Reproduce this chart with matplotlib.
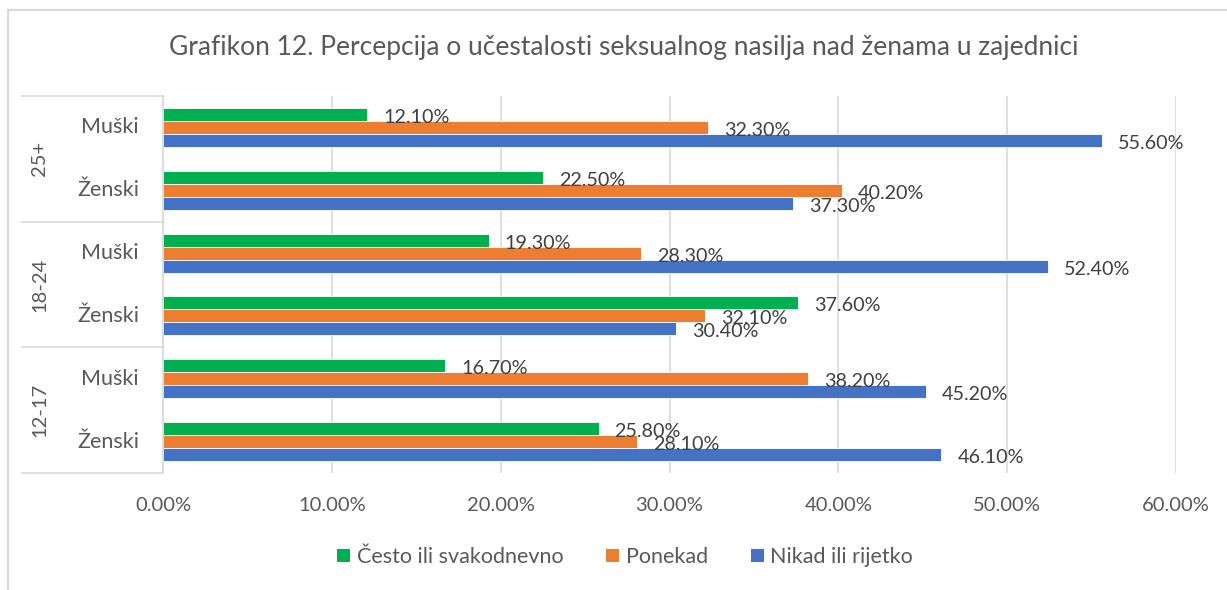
import matplotlib
matplotlib.use("Agg")
import matplotlib.pyplot as plt
from matplotlib.patches import Rectangle
from matplotlib.lines import Line2D
import numpy as np

plt.rcParams['font.family'] = ['Lato', 'DejaVu Sans']

title = "Grafikon 12. Percepcija o učestalosti seksualnog nasilja nad ženama u zajednici"
groups = ["12-17", "18-24", "25+"]
subcats = ["Ženski", "Muški"]
series_names = ["Često ili svakodnevno", "Ponekad", "Nikad ili rijetko"]
colors = ["#00B050", "#ED7D31", "#4472C4"]

# order: 12-17 Ženski, 12-17 Muški, 18-24 Ženski, 18-24 Muški, 25+ Ženski, 25+ Muški
cesto = [25.8, 16.7, 37.6, 19.3, 22.5, 12.1]
ponekad = [28.1, 38.2, 32.1, 28.3, 40.2, 32.3]
nikad = [46.1, 45.2, 30.4, 52.4, 37.3, 55.6]
xticks = [0, 10, 20, 30, 40, 50, 60]

W, H = 1227, 590
fig = plt.figure(figsize=(W / 100, H / 100), dpi=100)
ax = fig.add_axes([163 / W, 1 - 473 / H, (1176 - 163) / W, (473 - 96) / H])

text_color = "#595959"
grid_color = "#D9D9D9"

n = len(cesto)
y = np.arange(n)
bw = 0.207
offsets = [bw, 0, -bw]
data = [cesto, ponekad, nikad]
for vals, off, col, name in zip(data, offsets, colors, series_names):
    ax.barh(y + off, vals, height=bw, color=col, edgecolor="white",
            linewidth=0.6, label=name, zorder=3)
    for yi, v in zip(y, vals):
        ax.annotate(f"{v:.2f}%", (v, yi + off), xytext=(11.5, -2.2),
                    textcoords="offset points", va="center", ha="left",
                    fontsize=14.2, color="#404040", zorder=4)

ax.set_xlim(0, 60)
ax.set_ylim(-0.5, n - 0.5)
ax.set_xticks(xticks)
ax.set_xticklabels([f"{t:.2f}%" for t in xticks], fontsize=14.5, color=text_color)
ax.tick_params(axis='x', length=0, pad=17)
ax.set_yticks([])
ax.grid(axis='x', color=grid_color, linewidth=1.2, zorder=0)
for s in ["top", "right", "bottom"]:
    ax.spines[s].set_visible(False)
ax.spines["left"].set_color(grid_color)
ax.spines["left"].set_linewidth(1.2)
ax.spines["left"].set_zorder(5)

# two-level category axis
trans = matplotlib.transforms.blended_transform_factory(ax.transAxes, ax.transData)
x_left = (22 - 163) / (1176 - 163)
for sep in [-0.5, 1.5, 3.5, 5.5]:
    ax.add_line(Line2D([x_left, 0], [sep, sep], transform=trans, color=grid_color,
                       linewidth=1.2, clip_on=False))
x_sub = (139 - 163) / (1176 - 163)
for i in range(n):
    ax.text(x_sub, i, subcats[i % 2], transform=trans, ha="right", va="center",
            fontsize=15.5, color=text_color)
x_grp = (40 - 163) / (1176 - 163)
for gi, g in enumerate(groups):
    ax.text(x_grp, gi * 2 + 0.5, g, transform=trans, ha="center", va="center",
            rotation=90, fontsize=14.5, color=text_color)

fig.text(624 / W, 1 - 47 / H, title, ha="center", va="center", fontsize=19,
         color=text_color)

leg = fig.legend(loc="center", bbox_to_anchor=(625 / W, 1 - 557 / H), ncol=3,
                 frameon=False, fontsize=15.5, handlelength=0.6, handleheight=0.6,
                 handletextpad=0.3, columnspacing=2.0, labelcolor=text_color)
for h in leg.legend_handles:
    h.set_edgecolor("none")

fig.add_artist(Rectangle((8 / W, -0.1), 1.2, 1 - 10 / H + 0.1, transform=fig.transFigure,
                         fill=False, edgecolor="#D9D9D9", linewidth=1.5))

fig.savefig("out.png", dpi=100)
